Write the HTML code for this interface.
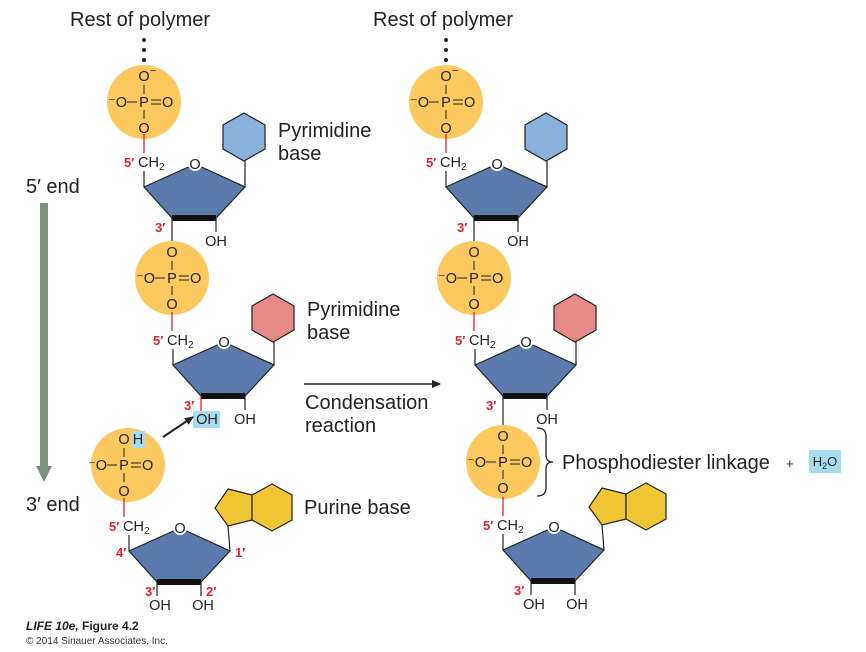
<!DOCTYPE html>
<html><head><meta charset="utf-8"><style>
html,body{margin:0;padding:0;background:#fff}
svg{display:block;font-family:"Liberation Sans",Arial,sans-serif}
.t{font-size:14.5px;fill:#222}
.r{font-size:13px;fill:#e5202a;font-weight:bold}
.big{font-size:20px;fill:#222}
</style></head><body>
<svg width="866" height="652" viewBox="0 0 866 652" xmlns="http://www.w3.org/2000/svg">
<defs>
<marker id="ah" markerWidth="10" markerHeight="10" refX="8" refY="5" orient="auto" markerUnits="userSpaceOnUse"><path d="M0,1 L9,5 L0,9 z" fill="#222"/></marker>
</defs>
<g stroke-linecap="butt">

<text x="70" y="26" class="big">Rest of polymer</text>
<text x="373" y="26" class="big">Rest of polymer</text>
<g fill="#222"><circle cx="144" cy="40" r="2"/><circle cx="144" cy="50" r="2"/><circle cx="144" cy="60" r="2"/>
<circle cx="446" cy="40" r="2"/><circle cx="446" cy="50" r="2"/><circle cx="446" cy="60" r="2"/></g>

<rect x="40" y="203" width="8" height="265" fill="#7a9378"/>
<polygon points="36,466 52,466 44,482" fill="#7a9378"/>
<text x="26" y="193" class="big">5′ end</text>
<text x="26" y="511" class="big">3′ end</text>

<g transform="translate(144,102)">
<circle r="37" fill="#fbc95e"/>
<text x="0" y="-21" class="t" text-anchor="middle">O</text><text x="6" y="-28" font-size="11" fill="#222">−</text>
<line x1="0" y1="-17" x2="0" y2="-8" stroke="#222"/>
<text x="0" y="5" class="t" text-anchor="middle">P</text>
<line x1="0" y1="8" x2="0" y2="17" stroke="#222"/>
<text x="0" y="31" class="t" text-anchor="middle">O</text>
<line x1="-17" y1="0" x2="-7" y2="0" stroke="#222"/>
<text x="-17" y="5" class="t" text-anchor="end">⁻O</text>
<line x1="7" y1="-2" x2="17" y2="-2" stroke="#222"/><line x1="7" y1="2" x2="17" y2="2" stroke="#222"/>
<text x="18" y="5" class="t">O</text>
</g>
<g>
<line x1="144" y1="134" x2="144" y2="153" stroke="#e5202a" stroke-width="1.3"/>
<polygon points="244,113 265,125 265,149 244,161 223,149 223,125" fill="#88b1dc" stroke="#222" stroke-width="1.2"/>
<line x1="245" y1="187" x2="245" y2="161" stroke="#222" stroke-width="1.2"/>
<line x1="144" y1="187" x2="144" y2="171" stroke="#222" stroke-width="1.2"/>
<polygon points="144,187 195,164 245,187 216,218 172,218" fill="#5b7bae" stroke="#222" stroke-width="1.2"/>
<line x1="172" y1="218" x2="216" y2="218" stroke="#111" stroke-width="6"/>
<circle cx="195" cy="164" r="7" fill="#fff"/><text x="195" y="169" class="t" text-anchor="middle">O</text>
<text x="124" y="167" class="r">5′</text><text x="138" y="167" class="t">CH<tspan font-size="10" dy="3">2</tspan></text>
<line x1="216" y1="218" x2="216" y2="232" stroke="#222" stroke-width="1.2"/>
<text x="216" y="246" class="t" text-anchor="middle">OH</text>
<text x="155" y="232" class="r">3′</text>
<line x1="172" y1="218" x2="172" y2="245" stroke="#222" stroke-width="1.2"/>
</g>
<text x="278" y="137" class="big">Pyrimidine</text>
<text x="278" y="160" class="big">base</text>

<g transform="translate(172,278)">
<circle r="37" fill="#fbc95e"/>
<text x="0" y="-21" class="t" text-anchor="middle">O</text>
<line x1="0" y1="-17" x2="0" y2="-8" stroke="#222"/>
<text x="0" y="5" class="t" text-anchor="middle">P</text>
<line x1="0" y1="8" x2="0" y2="17" stroke="#222"/>
<text x="0" y="31" class="t" text-anchor="middle">O</text>
<line x1="-17" y1="0" x2="-7" y2="0" stroke="#222"/>
<text x="-17" y="5" class="t" text-anchor="end">⁻O</text>
<line x1="7" y1="-2" x2="17" y2="-2" stroke="#222"/><line x1="7" y1="2" x2="17" y2="2" stroke="#222"/>
<text x="18" y="5" class="t">O</text>
</g>
<g transform="translate(29,178)">
<line x1="143" y1="134" x2="143" y2="153" stroke="#e5202a" stroke-width="1.3"/>
<polygon points="244,116 265,128 265,152 244,164 223,152 223,128" fill="#e58a87" stroke="#222" stroke-width="1.2"/>
<line x1="245" y1="187" x2="245" y2="164" stroke="#222" stroke-width="1.2"/>
<line x1="144" y1="187" x2="144" y2="171" stroke="#222" stroke-width="1.2"/>
<polygon points="144,187 195,164 245,187 216,218 172,218" fill="#5b7bae" stroke="#222" stroke-width="1.2"/>
<line x1="172" y1="218" x2="216" y2="218" stroke="#111" stroke-width="6"/>
<circle cx="195" cy="164" r="7" fill="#fff"/><text x="195" y="169" class="t" text-anchor="middle">O</text>
<text x="124" y="167" class="r">5′</text><text x="138" y="167" class="t">CH<tspan font-size="10" dy="3">2</tspan></text>
<line x1="216" y1="218" x2="216" y2="232" stroke="#222" stroke-width="1.2"/>
<text x="216" y="246" class="t" text-anchor="middle">OH</text>
<text x="155" y="232" class="r">3′</text>
<line x1="172" y1="218" x2="172" y2="233" stroke="#e5202a" stroke-width="1.3"/>
<rect x="164" y="233" width="27" height="17" fill="#a6dbf0"/>
<text x="178" y="246" class="t" text-anchor="middle">OH</text>
</g>
<text x="307" y="316" class="big">Pyrimidine</text>
<text x="307" y="339" class="big">base</text>

<line x1="304" y1="384" x2="440" y2="384" stroke="#222" stroke-width="1.5" marker-end="url(#ah)"/>
<text x="305" y="409" class="big">Condensation</text>
<text x="305" y="432" class="big">reaction</text>
<line x1="163" y1="437" x2="193" y2="417" stroke="#222" stroke-width="2" marker-end="url(#ah)"/>

<g transform="translate(128,465)">
<circle r="37" fill="#fbc95e"/>
<text x="-4" y="-21" class="t" text-anchor="middle">O</text>
<rect x="4" y="-34" width="13" height="17" fill="#a6dbf0"/>
<text x="10" y="-21" class="t" text-anchor="middle">H</text>
<line x1="-4" y1="-17" x2="-4" y2="-8" stroke="#222"/>
<text x="-4" y="5" class="t" text-anchor="middle">P</text>
<line x1="-4" y1="8" x2="-4" y2="17" stroke="#222"/>
<text x="-4" y="31" class="t" text-anchor="middle">O</text>
<line x1="-21" y1="0" x2="-11" y2="0" stroke="#222"/>
<text x="-21" y="5" class="t" text-anchor="end">⁻O</text>
<line x1="3" y1="-2" x2="13" y2="-2" stroke="#222"/><line x1="3" y1="2" x2="13" y2="2" stroke="#222"/>
<text x="14" y="5" class="t">O</text>
</g>
<g transform="translate(-15,364)">
<line x1="139" y1="134" x2="139" y2="153" stroke="#e5202a" stroke-width="1.3"/>
<polygon points="243,125 267,131 267,156 243,162 230,144" fill="#f0c634" stroke="#222" stroke-width="1.2"/>
<polygon points="267,131 287,120 307,131 307,156 287,167 267,156" fill="#f0c634" stroke="#222" stroke-width="1.2"/>
<line x1="245" y1="187" x2="243" y2="162" stroke="#222" stroke-width="1.2"/>
<line x1="144" y1="187" x2="144" y2="171" stroke="#222" stroke-width="1.2"/>
<polygon points="144,187 195,164 245,187 216,218 172,218" fill="#5b7bae" stroke="#222" stroke-width="1.2"/>
<line x1="172" y1="218" x2="216" y2="218" stroke="#111" stroke-width="6"/>
<circle cx="195" cy="164" r="7" fill="#fff"/><text x="195" y="169" class="t" text-anchor="middle">O</text>
<text x="124" y="167" class="r">5′</text><text x="138" y="167" class="t">CH<tspan font-size="10" dy="3">2</tspan></text>
<text x="131" y="193" class="r">4′</text>
<text x="250" y="193" class="r">1′</text>
<text x="160" y="232" class="r">3′</text>
<text x="221" y="232" class="r">2′</text>
<line x1="172" y1="218" x2="172" y2="232" stroke="#222" stroke-width="1.2"/>
<line x1="216" y1="218" x2="216" y2="232" stroke="#222" stroke-width="1.2"/>
<text x="175" y="246" class="t" text-anchor="middle">OH</text>
<text x="218" y="246" class="t" text-anchor="middle">OH</text>
</g>
<text x="304" y="514" class="big">Purine base</text>

<g transform="translate(446,102)">
<circle r="37" fill="#fbc95e"/>
<text x="0" y="-21" class="t" text-anchor="middle">O</text><text x="6" y="-28" font-size="11" fill="#222">−</text>
<line x1="0" y1="-17" x2="0" y2="-8" stroke="#222"/>
<text x="0" y="5" class="t" text-anchor="middle">P</text>
<line x1="0" y1="8" x2="0" y2="17" stroke="#222"/>
<text x="0" y="31" class="t" text-anchor="middle">O</text>
<line x1="-17" y1="0" x2="-7" y2="0" stroke="#222"/>
<text x="-17" y="5" class="t" text-anchor="end">⁻O</text>
<line x1="7" y1="-2" x2="17" y2="-2" stroke="#222"/><line x1="7" y1="2" x2="17" y2="2" stroke="#222"/>
<text x="18" y="5" class="t">O</text>
</g>
<g transform="translate(302,0)">
<line x1="144" y1="134" x2="144" y2="153" stroke="#e5202a" stroke-width="1.3"/>
<polygon points="244,113 265,125 265,149 244,161 223,149 223,125" fill="#88b1dc" stroke="#222" stroke-width="1.2"/>
<line x1="245" y1="187" x2="245" y2="161" stroke="#222" stroke-width="1.2"/>
<line x1="144" y1="187" x2="144" y2="171" stroke="#222" stroke-width="1.2"/>
<polygon points="144,187 195,164 245,187 216,218 172,218" fill="#5b7bae" stroke="#222" stroke-width="1.2"/>
<line x1="172" y1="218" x2="216" y2="218" stroke="#111" stroke-width="6"/>
<circle cx="195" cy="164" r="7" fill="#fff"/><text x="195" y="169" class="t" text-anchor="middle">O</text>
<text x="124" y="167" class="r">5′</text><text x="138" y="167" class="t">CH<tspan font-size="10" dy="3">2</tspan></text>
<line x1="216" y1="218" x2="216" y2="232" stroke="#222" stroke-width="1.2"/>
<text x="216" y="246" class="t" text-anchor="middle">OH</text>
<text x="155" y="232" class="r">3′</text>
<line x1="172" y1="218" x2="172" y2="245" stroke="#222" stroke-width="1.2"/>
</g>

<g transform="translate(474,278)">
<circle r="37" fill="#fbc95e"/>
<text x="0" y="-21" class="t" text-anchor="middle">O</text>
<line x1="0" y1="-17" x2="0" y2="-8" stroke="#222"/>
<text x="0" y="5" class="t" text-anchor="middle">P</text>
<line x1="0" y1="8" x2="0" y2="17" stroke="#222"/>
<text x="0" y="31" class="t" text-anchor="middle">O</text>
<line x1="-17" y1="0" x2="-7" y2="0" stroke="#222"/>
<text x="-17" y="5" class="t" text-anchor="end">⁻O</text>
<line x1="7" y1="-2" x2="17" y2="-2" stroke="#222"/><line x1="7" y1="2" x2="17" y2="2" stroke="#222"/>
<text x="18" y="5" class="t">O</text>
</g>
<g transform="translate(331,178)">
<line x1="143" y1="134" x2="143" y2="153" stroke="#e5202a" stroke-width="1.3"/>
<polygon points="244,116 265,128 265,152 244,164 223,152 223,128" fill="#e58a87" stroke="#222" stroke-width="1.2"/>
<line x1="245" y1="187" x2="245" y2="164" stroke="#222" stroke-width="1.2"/>
<line x1="144" y1="187" x2="144" y2="171" stroke="#222" stroke-width="1.2"/>
<polygon points="144,187 195,164 245,187 216,218 172,218" fill="#5b7bae" stroke="#222" stroke-width="1.2"/>
<line x1="172" y1="218" x2="216" y2="218" stroke="#111" stroke-width="6"/>
<circle cx="195" cy="164" r="7" fill="#fff"/><text x="195" y="169" class="t" text-anchor="middle">O</text>
<text x="124" y="167" class="r">5′</text><text x="138" y="167" class="t">CH<tspan font-size="10" dy="3">2</tspan></text>
<line x1="216" y1="218" x2="216" y2="232" stroke="#222" stroke-width="1.2"/>
<text x="216" y="246" class="t" text-anchor="middle">OH</text>
<text x="155" y="232" class="r">3′</text>
<line x1="172" y1="218" x2="172" y2="248" stroke="#222" stroke-width="1.2"/>
</g>

<g transform="translate(503,462)">
<circle r="37" fill="#fbc95e"/>
<text x="0" y="-21" class="t" text-anchor="middle">O</text>
<line x1="0" y1="-17" x2="0" y2="-8" stroke="#222"/>
<text x="0" y="5" class="t" text-anchor="middle">P</text>
<line x1="0" y1="8" x2="0" y2="17" stroke="#222"/>
<text x="0" y="31" class="t" text-anchor="middle">O</text>
<line x1="-17" y1="0" x2="-7" y2="0" stroke="#222"/>
<text x="-17" y="5" class="t" text-anchor="end">⁻O</text>
<line x1="7" y1="-2" x2="17" y2="-2" stroke="#222"/><line x1="7" y1="2" x2="17" y2="2" stroke="#222"/>
<text x="18" y="5" class="t">O</text>
</g>
<g transform="translate(359,363)">
<line x1="144" y1="134" x2="144" y2="153" stroke="#e5202a" stroke-width="1.3"/>
<polygon points="243,125 267,131 267,156 243,162 230,144" fill="#f0c634" stroke="#222" stroke-width="1.2"/>
<polygon points="267,131 287,120 307,131 307,156 287,167 267,156" fill="#f0c634" stroke="#222" stroke-width="1.2"/>
<line x1="245" y1="187" x2="243" y2="162" stroke="#222" stroke-width="1.2"/>
<line x1="144" y1="187" x2="144" y2="171" stroke="#222" stroke-width="1.2"/>
<polygon points="144,187 195,164 245,187 216,218 172,218" fill="#5b7bae" stroke="#222" stroke-width="1.2"/>
<line x1="172" y1="218" x2="216" y2="218" stroke="#111" stroke-width="6"/>
<circle cx="195" cy="164" r="7" fill="#fff"/><text x="195" y="169" class="t" text-anchor="middle">O</text>
<text x="124" y="167" class="r">5′</text><text x="138" y="167" class="t">CH<tspan font-size="10" dy="3">2</tspan></text>
<text x="155" y="232" class="r">3′</text>
<line x1="172" y1="218" x2="172" y2="232" stroke="#222" stroke-width="1.2"/>
<line x1="216" y1="218" x2="216" y2="232" stroke="#222" stroke-width="1.2"/>
<text x="175" y="246" class="t" text-anchor="middle">OH</text>
<text x="218" y="246" class="t" text-anchor="middle">OH</text>
</g>

<path d="M537,428 Q546,428 546,436 L546,455 Q546,462 553,462 Q546,462 546,469 L546,488 Q546,496 537,496" fill="none" stroke="#222" stroke-width="1.3"/>
<text x="562" y="469" class="big">Phosphodiester linkage</text>
<text x="786" y="468" font-size="13" fill="#222">+</text>
<rect x="809" y="450" width="32" height="23" fill="#a6dbf0"/>
<text x="825" y="466" font-size="13" fill="#222" text-anchor="middle">H<tspan font-size="9" dy="3">2</tspan><tspan dy="-3">O</tspan></text>

<text x="26" y="630" font-size="12" font-weight="bold" fill="#222"><tspan font-style="italic">LIFE 10e,</tspan> Figure 4.2</text>
<text x="26" y="644" font-size="10" fill="#333">© 2014 Sinauer Associates, Inc.</text>
</g>
</svg>
</body></html>
